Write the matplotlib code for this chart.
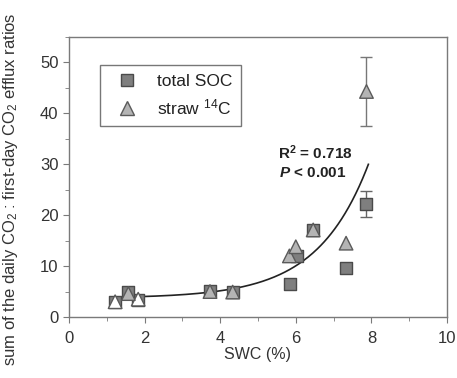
import numpy as np
import matplotlib
matplotlib.use("Agg")
import matplotlib.pyplot as plt
from matplotlib.lines import Line2D

plt.rcParams['font.family'] = ['Liberation Sans', 'DejaVu Sans']
plt.rcParams['mathtext.fontset'] = 'custom'
plt.rcParams['mathtext.rm'] = 'Liberation Sans'
plt.rcParams['mathtext.bf'] = 'Liberation Sans:bold'
plt.rcParams['mathtext.it'] = 'Liberation Sans:italic:bold'

# total SOC (squares)
soc_x = [1.22, 1.83, 1.57, 3.73, 4.33, 5.85, 6.02, 6.46, 7.33, 7.87]
soc_y = [3.0, 3.4, 5.0, 5.1, 4.9, 6.4, 12.0, 17.1, 9.6, 22.2]
soc_err = [0, 0, 0, 0, 0, 0, 0, 0, 0, 2.6]

# straw 14C (triangles)
straw_x = [1.22, 1.83, 1.57, 3.73, 4.33, 5.83, 6.0, 6.46, 7.33, 7.87]
straw_y = [3.0, 3.5, 4.6, 5.0, 4.9, 12.0, 13.8, 17.1, 14.5, 44.3]
straw_err = [0, 0, 0, 0, 0, 0, 0, 0, 0, 6.8]
straw_white = [True, True, False, False, False, False, False, False, False, False]

# exponential fit y = fit_d + fit_b * exp(fit_c * x)
fit_d, fit_b, fit_c = 3.7, 0.0749, 0.74
fit_xmin, fit_xmax = 1.8, 7.92

W, H = 457, 378
fig = plt.figure(figsize=(W/100, H/100), dpi=100)
ax = fig.add_axes([69/W, 1-317/H, (447-69)/W, (317-37)/H])

sq_face = '#7f7f7f'
sq_edge = '#4a4a4a'
tr_face = '#b4b4b4'
tr_edge = '#5a5a5a'

# error bars
for x, y, e in zip(soc_x, soc_y, soc_err):
    if e > 0:
        ax.errorbar([x], [y], yerr=[e], fmt='none', ecolor='#666666', elinewidth=1, capsize=4, capthick=1, zorder=2)
for x, y, e in zip(straw_x, straw_y, straw_err):
    if e > 0:
        ax.errorbar([x], [y], yerr=[e], fmt='none', ecolor='#777777', elinewidth=1, capsize=4, capthick=1, zorder=2)

# fit line
xf = np.linspace(fit_xmin, fit_xmax, 200)
ax.plot(xf, fit_d + fit_b*np.exp(fit_c*xf), color='#222222', lw=1.2, zorder=3)

ax.scatter(soc_x, soc_y, marker='s', s=75, facecolor=sq_face, edgecolor=sq_edge, linewidths=1, zorder=4)
tcols = ['white' if w else tr_face for w in straw_white]
ax.scatter(straw_x, straw_y, marker='^', s=95, facecolor=tcols, edgecolor=tr_edge, linewidths=1, zorder=5)

ax.set_xlim(0, 10)
ax.set_ylim(0, 55)
ax.set_xticks([0, 2, 4, 6, 8, 10])
ax.set_xticks(np.arange(0, 11, 1), minor=True)
ax.set_yticks([0, 10, 20, 30, 40, 50])
ax.set_yticks(np.arange(0, 56, 5), minor=True)
for s in ax.spines.values():
    s.set_color('#7a7a7a')
    s.set_linewidth(1)
ax.tick_params(which='both', direction='out', color='#7a7a7a', labelsize=12, labelcolor='#333333')
ax.tick_params(which='major', length=4)
ax.tick_params(which='minor', length=3)
ax.tick_params(axis='x', pad=6)

ax.set_xlabel('SWC (%)', fontsize=11.5, color='#333333', labelpad=1)
fig.text(11/W, 0.5, 'sum of the daily CO$_2$ : first-day CO$_2$ efflux ratios', rotation=90,
         ha='center', va='center', fontsize=12, color='#333333')

ax.text(0.751, 0.586, 'R$^\\mathbf{2}$ = 0.718', transform=ax.transAxes, ha='right', va='center',
        fontsize=11, fontweight='bold', color='#222222')
ax.text(0.735, 0.514, '$P$ < 0.001', transform=ax.transAxes, ha='right', va='center',
        fontsize=11, fontweight='bold', color='#222222')

handles = [Line2D([], [], marker='s', ls='none', markersize=8.5, markerfacecolor=sq_face, markeredgecolor=sq_edge),
           Line2D([], [], marker='^', ls='none', markersize=10, markerfacecolor=tr_face, markeredgecolor=tr_edge)]
leg = ax.legend(handles, ['total SOC', 'straw $^{14}$C'], loc='upper left', bbox_to_anchor=(31/378, 1-28/280),
                frameon=True, fancybox=False, fontsize=12.5, handletextpad=0.7, borderpad=0.5, labelspacing=0.5,
                handlelength=2.1, borderaxespad=0)
leg.get_frame().set_edgecolor('#555555')
leg.get_frame().set_linewidth(1)
for t in leg.get_texts():
    t.set_color('#222222')

fig.savefig('out.png', dpi=100)
